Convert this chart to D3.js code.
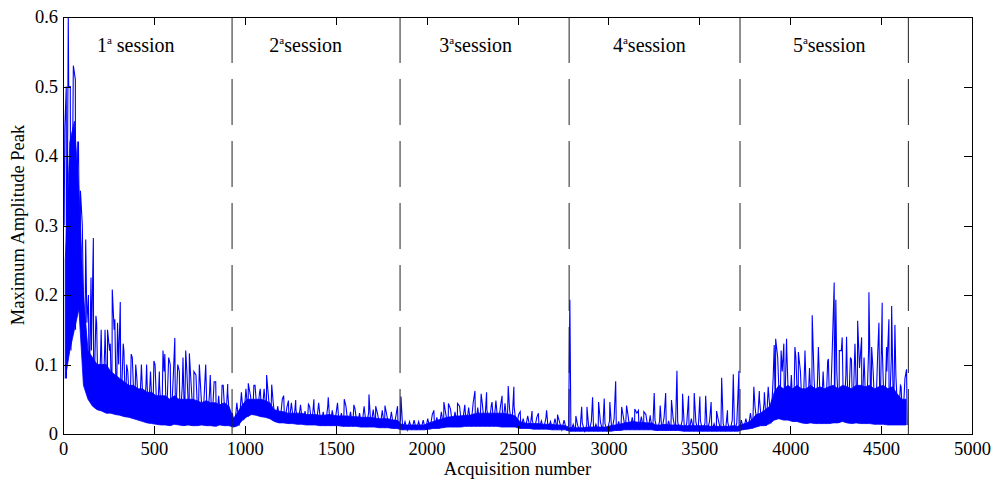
<!DOCTYPE html>
<html>
<head>
<meta charset="utf-8">
<script src="https://cdn.jsdelivr.net/npm/d3@7"></script>
<style>
  body { margin: 0; background: #fff; }
  text { font-family: "Liberation Serif", "Times New Roman", serif; fill: #000; }
</style>
</head>
<body>
<svg id="chart" width="995" height="479"></svg>
<script>
// signal envelope, one value per 25 acquisitions (0 .. 4650)
const binSize = 25;

// lowest value in each bin
const peakLo = [
  .08, .12, .15, .18, .07, .05, .04, .035, .033, .03,
  .03, .028, .027, .025, .024, .022, .02, .018, .016, .015,
  .014, .013, .013, .012, .014, .013, .012, .013, .012, .012,
  .013, .012, .012, .011, .013, .012, .012,
  .01, .012, .02,
  .025, .028, .027, .025, .024, .022, .018, .016, .016, .015,
  .015, .014, .014, .013, .013, .013, .012, .012, .012, .012,
  .012, .011, .011, .011, .011, .01, .01, .01, .01, .009,
  .009, .009, .008, .008, .006, .006, .006, .006, .006, .006,
  .007, .008, .008, .009, .01, .01, .01, .01, .011, .011,
  .011, .011, .011, .011, .011, .011, .01, .01, .01, .01,
  .008, .008, .008, .007, .007, .007, .007, .006, .006, .006,
  .006, .004, .004, .004, .004, .004, .004, .004, .004, .004,
  .004, .005, .005, .006, .006, .006, .006, .006, .006, .006,
  .005, .005, .005, .005, .005, .005, .004, .004, .004, .004,
  .004, .004, .004, .004, .004, .004, .004, .004, .004, .006,
  .007, .008, .01, .012, .012, .015, .02, .022, .02, .02,
  .018, .018, .016, .015, .016, .015, .015, .015, .015, .016,
  .016, .018, .016, .015, .016, .015, .015, .015, .014, .014,
  .014, .013, .013, .013, .013, .013
];

// top of the solid-looking core of the trace
const denseHi = [
  .25, .42, .45, .35, .20, .12, .11, .10, .10, .10,
  .09, .085, .08, .075, .07, .07, .065, .065, .06, .06,
  .055, .055, .055, .05, .055, .05, .05, .05, .05, .048,
  .045, .048, .045, .045, .042, .045, .04,
  .022, .032, .042,
  .05, .05, .05, .05, .048, .045, .035, .033, .032, .03,
  .03, .03, .03, .028, .028, .028, .027, .027, .028, .027,
  .026, .026, .026, .025, .025, .024, .024, .024, .023, .022,
  .022, .022, .02, .02, .014, .013, .013, .013, .013, .013,
  .016, .018, .02, .022, .024, .025, .026, .026, .027, .027,
  .029, .03, .03, .03, .03, .03, .03, .029, .028, .026,
  .018, .016, .015, .015, .015, .014, .014, .014, .013, .013,
  .012, .009, .009, .009, .009, .01, .01, .01, .01, .01,
  .012, .013, .014, .016, .017, .018, .017, .017, .016, .016,
  .013, .013, .014, .013, .013, .013, .012, .012, .012, .012,
  .012, .012, .011, .011, .011, .011, .011, .012, .011, .014,
  .016, .02, .028, .03, .035, .04, .06, .07, .065, .07,
  .065, .07, .065, .065, .07, .065, .068, .065, .068, .07,
  .065, .07, .068, .065, .07, .07, .068, .07, .065, .068,
  .07, .065, .068, .058, .05, .05
];

// highest value in each bin
const peakHi = [
  .30, .50, .51, .42, .30, .16, .12, .17, .11, .15,
  .12, .15, .10, .13, .09, .11, .08, .10, .07, .09,
  .10, .07, .09, .11, .08, .10, .07, .09, .065, .085,
  .07, .08, .06, .075, .055, .07, .06,
  .03, .045, .06,
  .065, .055, .07, .06, .065, .05, .045, .04, .05, .038,
  .045, .035, .042, .033, .04, .036, .045, .032, .04, .034,
  .038, .03, .04, .032, .036, .03, .04, .031, .035, .028,
  .034, .027, .032, .026, .02, .018, .018, .02, .018, .02,
  .022, .028, .024, .032, .028, .036, .032, .04, .034, .038,
  .045, .038, .044, .036, .042, .048, .04, .044, .036, .04,
  .028, .022, .026, .02, .024, .019, .023, .018, .022, .017,
  .02, .012, .014, .012, .016, .013, .018, .014, .017, .015,
  .019, .022, .018, .026, .03, .024, .03, .025, .028, .022,
  .02, .018, .024, .019, .022, .017, .02, .016, .022, .017,
  .019, .016, .018, .015, .018, .015, .017, .02, .016, .02,
  .022, .03, .04, .05, .045, .06, .08, .11, .09, .12,
  .085, .11, .09, .12, .095, .08, .115, .09, .105, .12,
  .09, .12, .085, .11, .13, .095, .11, .12, .09, .115,
  .125, .09, .11, .085, .07, .08
];

// narrow spikes standing out of the band [acquisition, value]
const spikes = [
  [10, .44], [18, .50], [29, .60], [40, .50], [57, .53], [68, .51], [85, .42], [96, .35],
  [125, .28], [140, .20], [154, .225], [167, .282], [185, .16], [210, .15], [230, .13],
  [245, .15], [260, .13], [271, .208], [285, .165], [300, .16], [315, .19], [335, .12],
  [350, .10], [375, .115], [400, .10], [430, .09], [460, .10], [500, .105], [530, .09],
  [550, .12], [560, .115], [590, .10], [615, .138], [640, .09], [660, .11], [675, .12],
  [695, .116], [720, .09], [750, .10], [785, .10], [810, .085], [840, .075], [875, .07],
  [906, .072],
  [1019, .073], [1050, .07], [1085, .065], [1120, .085], [1148, .071], [1214, .055],
  [1240, .048], [1280, .049], [1350, .043], [1380, .05], [1459, .053], [1510, .045],
  [1547, .05], [1600, .042], [1683, .057], [1720, .04], [1771, .041], [1840, .04],
  [1859, .054], [2040, .034], [2095, .046], [2120, .044], [2170, .044], [2210, .042],
  [2266, .062], [2300, .058], [2330, .06], [2360, .046], [2415, .055], [2449, .069],
  [2480, .068], [2515, .032], [2580, .033], [2615, .03], [2660, .034], [2720, .028],
  [2788, .193],
  [2821, .026], [2853, .039], [2882, .039], [2913, .053], [2946, .046], [2977, .051],
  [3008, .046], [3040, .076], [3073, .039], [3100, .041], [3145, .036], [3165, .034],
  [3195, .032], [3230, .027], [3252, .059], [3285, .041], [3315, .059], [3347, .049],
  [3377, .091], [3408, .058], [3441, .055], [3472, .059], [3503, .054], [3535, .055],
  [3565, .046], [3595, .033], [3623, .081], [3655, .034], [3687, .086], [3718, .091],
  [3800, .068], [3830, .062], [3858, .06], [3879, .068], [3912, .128], [3920, .137],
  [3950, .12], [3965, .13], [3980, .137], [4026, .125], [4045, .118], [4080, .106],
  [4121, .171], [4155, .125], [4210, .108], [4242, .218], [4251, .193], [4270, .12],
  [4286, .139], [4310, .14], [4337, .107], [4371, .163], [4393, .139], [4433, .204],
  [4448, .125], [4488, .16], [4506, .189], [4530, .125], [4543, .165], [4558, .184],
  [4576, .157], [4610, .068], [4640, .093]
];

const sessionEnds = [930, 1854, 2784, 3724, 4650];
const sessionNums = ['1', '2', '3', '4', '5'];
const sessionWords = [' session', 'session', 'session', 'session', 'session'];
const sessionLabelX = [400, 1335, 2270, 3225, 4215];

const xTicks = [0, 500, 1000, 1500, 2000, 2500, 3000, 3500, 4000, 4500, 5000];
const yTicks = [0, 0.1, 0.2, 0.3, 0.4, 0.5, 0.6];

const svg = d3.select('#chart');

const x = d3.scaleLinear().domain([0, 5000]).range([63, 972]);
const y = d3.scaleLinear().domain([0, 0.6]).range([434, 17]);

svg.append('clipPath').attr('id', 'plotArea')
    .append('rect')
    .attr('x', 63).attr('y', 16)
    .attr('width', 909).attr('height', 418);

const plot = svg.append('g').attr('clip-path', 'url(#plotArea)');

// solid core of the trace
const core = d3.area()
    .x((d, i) => x(i * binSize + binSize / 2))
    .y0(d => y(d))
    .y1((d, i) => y(denseHi[i]));

plot.append('path')
    .datum(peakLo)
    .attr('d', core)
    .style('fill', '#0000ff')
    .style('stroke', '#0000ff')
    .style('stroke-width', 0.8);

// merge envelope and spikes into one trace
const pts = [];
peakLo.forEach((lo, i) => {
    pts.push([i * binSize + binSize / 4, peakHi[i]]);
    pts.push([i * binSize + 3 * binSize / 4, lo]);
});
spikes.forEach(s => pts.push(s));
pts.sort((a, b) => a[0] - b[0]);

const line = d3.line()
    .x(d => x(d[0]))
    .y(d => y(d[1]));

plot.append('path')
    .datum(pts)
    .attr('d', line)
    .style('fill', 'none')
    .style('stroke', '#0000ff')
    .style('stroke-width', 1.1);

// session separators
svg.append('g')
    .selectAll('line')
    .data(sessionEnds)
    .enter()
    .append('line')
    .attr('x1', d => x(d)).attr('x2', d => x(d))
    .attr('y1', y(0.6)).attr('y2', y(0))
    .style('stroke', '#222')
    .style('stroke-width', 1)
    .style('stroke-dasharray', '46,16');

// session labels
const lab = svg.append('g')
    .selectAll('text')
    .data(sessionNums)
    .enter()
    .append('text')
    .attr('x', (d, i) => x(sessionLabelX[i]))
    .attr('y', 52)
    .attr('text-anchor', 'middle')
    .style('font-size', '20px');
lab.append('tspan').text(d => d);
lab.append('tspan').attr('dy', -8).style('font-size', '11px').text('a');
lab.append('tspan').attr('dy', 8).text((d, i) => sessionWords[i]);

// axes, MATLAB style box with inward ticks
const fmtY = d => d === 0 ? '0' : d3.format('.1f')(d);

const axes = [
    svg.append('g').attr('transform', 'translate(0,434)')
        .call(d3.axisBottom(x).tickValues(xTicks).tickFormat(d3.format('d'))
            .tickSizeInner(-8).tickSizeOuter(0).tickPadding(8)),
    svg.append('g').attr('transform', 'translate(0,17)')
        .call(d3.axisTop(x).tickValues(xTicks).tickFormat('')
            .tickSizeInner(-8).tickSizeOuter(0)),
    svg.append('g').attr('transform', 'translate(63,0)')
        .call(d3.axisLeft(y).tickValues(yTicks).tickFormat(fmtY)
            .tickSizeInner(-8).tickSizeOuter(0).tickPadding(5)),
    svg.append('g').attr('transform', 'translate(972,0)')
        .call(d3.axisRight(y).tickValues(yTicks).tickFormat('')
            .tickSizeInner(-8).tickSizeOuter(0))
];
axes.forEach(g => {
    g.selectAll('path, line').style('stroke', '#000').style('shape-rendering', 'crispEdges');
    g.selectAll('text')
        .style('font-family', '"Liberation Serif", "Times New Roman", serif')
        .style('font-size', '18.5px')
        .style('fill', '#000');
});

svg.append('text')
    .attr('x', x(2500))
    .attr('y', 475)
    .attr('text-anchor', 'middle')
    .style('font-size', '18.5px')
    .text('Acquisition number');

svg.append('text')
    .attr('transform', 'translate(24,225) rotate(-90)')
    .attr('text-anchor', 'middle')
    .style('font-size', '18.5px')
    .text('Maximum Amplitude Peak');
</script>
</body>
</html>
